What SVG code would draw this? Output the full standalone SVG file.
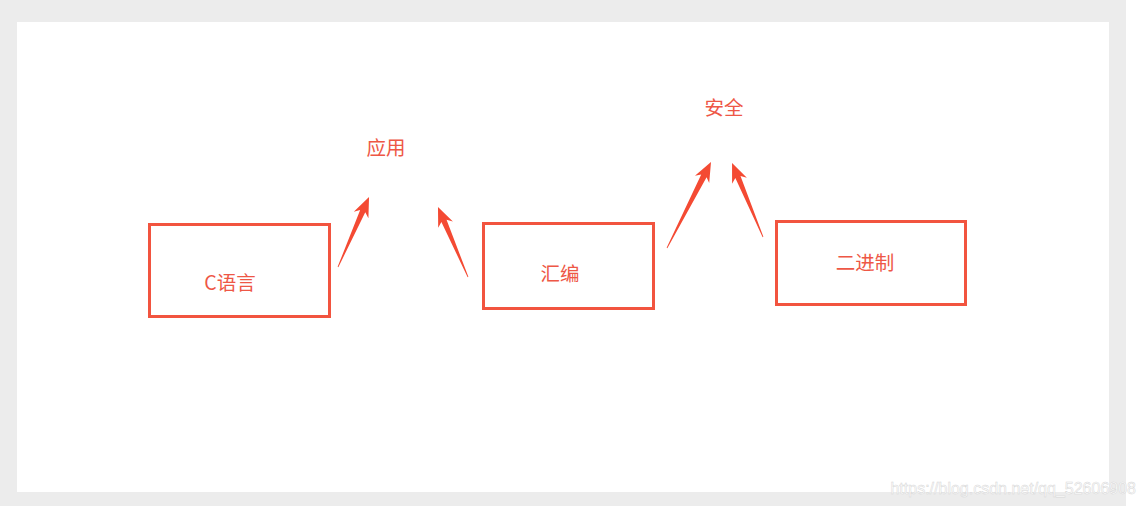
<svg xmlns="http://www.w3.org/2000/svg" width="1146" height="506" viewBox="0 0 1146 506">
<style>
.box{fill:#ffffff;stroke:#f2543f;stroke-width:3}
.lbl{font-family:"Noto Sans CJK SC","Noto Sans",sans-serif;font-size:19.5px;fill:#ee5746;text-anchor:middle;dominant-baseline:central}
.arr{fill:#f44a33;stroke:none}
.wm{font-family:"Liberation Sans",Arial,sans-serif;font-size:16px;fill:#ffffff;stroke:#d6d6d6;stroke-width:0.5}
</style>
<rect x="0" y="0" width="1146" height="506" fill="#ffffff"/>
<rect x="0" y="0" width="1126" height="506" fill="#ececec"/>
<rect x="17" y="22" width="1092" height="470" fill="#ffffff"/>
<g id="node-c">
<rect class="box" x="149.5" y="224.5" width="180" height="92"/>
<text class="lbl" x="230" y="281">C语言</text>
</g>
<g id="node-asm">
<rect class="box" x="483.5" y="223.5" width="170" height="85"/>
<text class="lbl" x="560" y="272">汇编</text>
</g>
<g id="node-bin">
<rect class="box" x="776.5" y="221.5" width="189" height="83"/>
<text class="lbl" x="865" y="261">二进制</text>
</g>
<g id="node-app">
<text class="lbl" x="386" y="146">应用</text>
</g>
<g id="node-sec">
<text class="lbl" x="724" y="106">安全</text>
</g>
<g id="connectors">
<path class="arr" transform="translate(338,267) rotate(-66.1)" d="M0,0.4 L61,2.8 L57,8 L76.6,0 L57,-8 L61,-2.8 L0,-0.4 Z"/>
<path class="arr" transform="translate(468,277) rotate(-113.2)" d="M0,0.4 L61,2.8 L57,8 L76.2,0 L57,-8 L61,-2.8 L0,-0.4 Z"/>
<path class="arr" transform="translate(667,248) rotate(-62.9)" d="M0,0.4 L81,3 L77,8 L96.6,0 L77,-8 L81,-3 L0,-0.4 Z"/>
<path class="arr" transform="translate(763,237) rotate(-112.7)" d="M0,0.4 L65,2.8 L61,8 L80.2,0 L61,-8 L65,-2.8 L0,-0.4 Z"/>
</g>
<text class="wm" x="1136" y="494" text-anchor="end">https://blog.csdn.net/qq_52606908</text>
</svg>
